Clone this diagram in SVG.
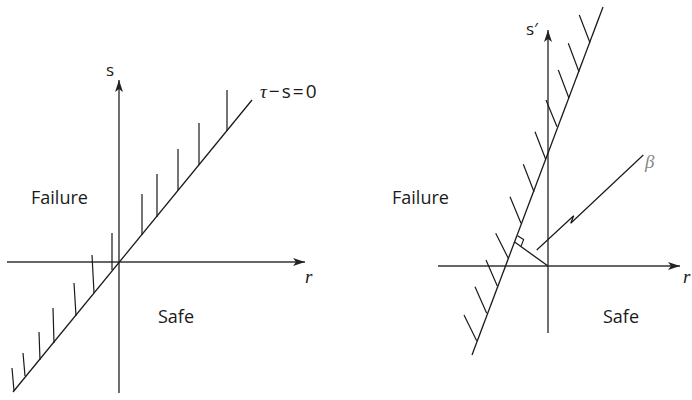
<svg xmlns="http://www.w3.org/2000/svg" width="692" height="400" viewBox="0 0 692 400">
<defs>
<marker id="arr" viewBox="0 0 12 8" refX="12" refY="4" markerWidth="12" markerHeight="8" markerUnits="userSpaceOnUse" orient="auto">
<path d="M0,0 L12,4 L0,8 L3,4 Z" fill="#222"/>
</marker>
</defs>
<style>
.ax{stroke:#333;stroke-width:1.4;fill:none}
.ln{stroke:#1a1a1a;stroke-width:1.3;fill:none}
.h{stroke:#1a1a1a;stroke-width:1.2;fill:none}
.lb{font-family:"Open Sans",Lato,sans-serif;font-size:18px;fill:#1a1a1a}
.al{font-family:"Open Sans",Lato,sans-serif;font-size:17px;fill:#1a1a1a}
.mi{font-family:"Liberation Serif",serif;font-style:italic}
</style>
<g id="connectors">
<line class="ax" x1="119" y1="393" x2="119" y2="80" marker-end="url(#arr)"/>
<line class="ax" x1="7" y1="262" x2="305" y2="262" marker-end="url(#arr)"/>
<line class="ax" x1="548" y1="333" x2="548" y2="30" marker-end="url(#arr)"/>
<line class="ax" x1="438" y1="266" x2="680" y2="266" marker-end="url(#arr)"/>
</g>
<g id="left-limit">
<line class="ln" x1="13" y1="392" x2="252" y2="100"/>
<path class="h" d="M227,131V90 M199,165V123 M178,190V149 M157,217V174 M142,235V194 M112,270V233 M94,293L92,255 M76,316L74,283 M54,343L53,308 M40,360L39,332 M25,376L23,353 M14,391L12,368"/>
</g>
<g id="left-labels">
<text class="al" x="106" y="76">s</text>
<text class="al mi" x="305" y="283" style="font-size:19px">r</text>
<text class="al" x="260" y="98" style="font-size:19px"><tspan class="mi">τ</tspan><tspan dx="2">−</tspan><tspan dx="2">s</tspan><tspan dx="2">=</tspan><tspan dx="2">0</tspan></text>
<text class="lb" x="31" y="204">Failure</text>
<text class="lb" x="158" y="323">Safe</text>
</g>
<g id="right-limit">
<line class="ln" x1="472" y1="355" x2="603" y2="7"/>
<path class="h" d="M590,42.7L579.3,15 M579,71.7L568.3,43.3 M569,98.3L558.3,70 M557,126.7L546,100 M545.7,159.3L535,131.7 M534,191.7L523.3,164.3 M521,223.3L510,196.7 M508.3,258.3L495.7,233.3 M497.3,286L486,260 M486.7,313.3L475,286.7 M476.7,340.7L464,315"/>
</g>
<g id="beta">
<line class="ln" x1="548" y1="266" x2="515" y2="242.3"/>
<path class="h" d="M517.5,235.8L523.6,239.6L521,246.4"/>
<path class="h" d="M536.7,250L573.7,215.7L570.7,223.3L643.3,155"/>
<text x="645" y="168" font-family="Liberation Serif,serif" font-style="italic" font-size="19" fill="#888">β</text>
</g>
<g id="right-labels">
<text class="al" x="526" y="35">s′</text>
<text class="al mi" x="683" y="283" style="font-size:19px">r</text>
<text class="lb" x="392" y="204">Failure</text>
<text class="lb" x="603" y="323">Safe</text>
</g>
</svg>
